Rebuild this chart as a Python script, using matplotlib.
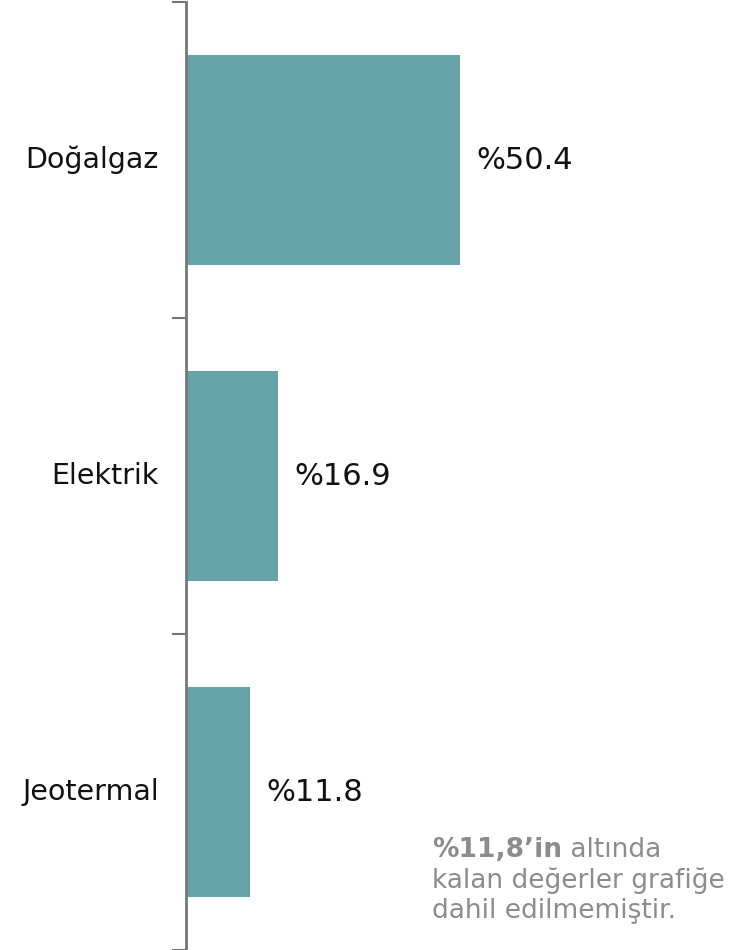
import matplotlib
matplotlib.use("Agg")
import matplotlib.pyplot as plt

# --- Données ---
categories = ["Doğalgaz", "Elektrik", "Jeotermal"]
valeurs = [50.4, 16.9, 11.8]
etiquettes = ["%50.4", "%16.9", "%11.8"]
note_gras = "%11,8’in"
note_suite = " altında"
note_lignes = ["kalan değerler grafiğe", "dahil edilmemiştir."]

couleur_barre = "#66a3a9"
couleur_note = "#8c8c8c"

fig = plt.figure(figsize=(7.3, 9.5), dpi=100)
ax = fig.add_axes([186 / 730, 0, 544 / 730, 948 / 950])

pos = list(range(len(categories)))
ax.barh(pos, valeurs, height=0.667, color=couleur_barre)
ax.set_xlim(0, 100)
ax.set_ylim(len(categories) - 0.5, -0.5)

# etiquettes des valeurs
for p, v, lab in zip(pos, valeurs, etiquettes):
    ax.text(v + 3.0, p, lab, va="center", ha="left", fontsize=22, color="#111111")

# axe y
ax.set_yticks([p + 0.5 for p in [-1] + pos])
ax.set_yticklabels([])
ax.tick_params(axis="y", length=10, width=1.5, color="#777777")
ax.get_yticklines()[0].set_color("#222222")
for p, c in zip(pos, categories):
    ax.text(-5.0, p, c, va="center", ha="right", fontsize=20.5, color="#111111")
ax.set_xticks([])
for s in ["top", "right", "bottom"]:
    ax.spines[s].set_visible(False)
ax.spines["left"].set_color("#777777")
ax.spines["left"].set_linewidth(2)

# --- Note ---
y0 = 857
t1 = fig.text(432 / 730, 1 - y0 / 950, note_gras, fontsize=19, fontweight="bold",
              color=couleur_note, ha="left", va="baseline")
fig.canvas.draw()
bb = t1.get_window_extent()
fig.text(bb.x1 / 730, 1 - y0 / 950, note_suite, fontsize=19,
         color=couleur_note, ha="left", va="baseline")
for i, ligne in enumerate(note_lignes):
    fig.text(432 / 730, 1 - (y0 + 30.5 * (i + 1)) / 950, ligne, fontsize=19,
             color=couleur_note, ha="left", va="baseline")

fig.savefig("out.png", dpi=100)
